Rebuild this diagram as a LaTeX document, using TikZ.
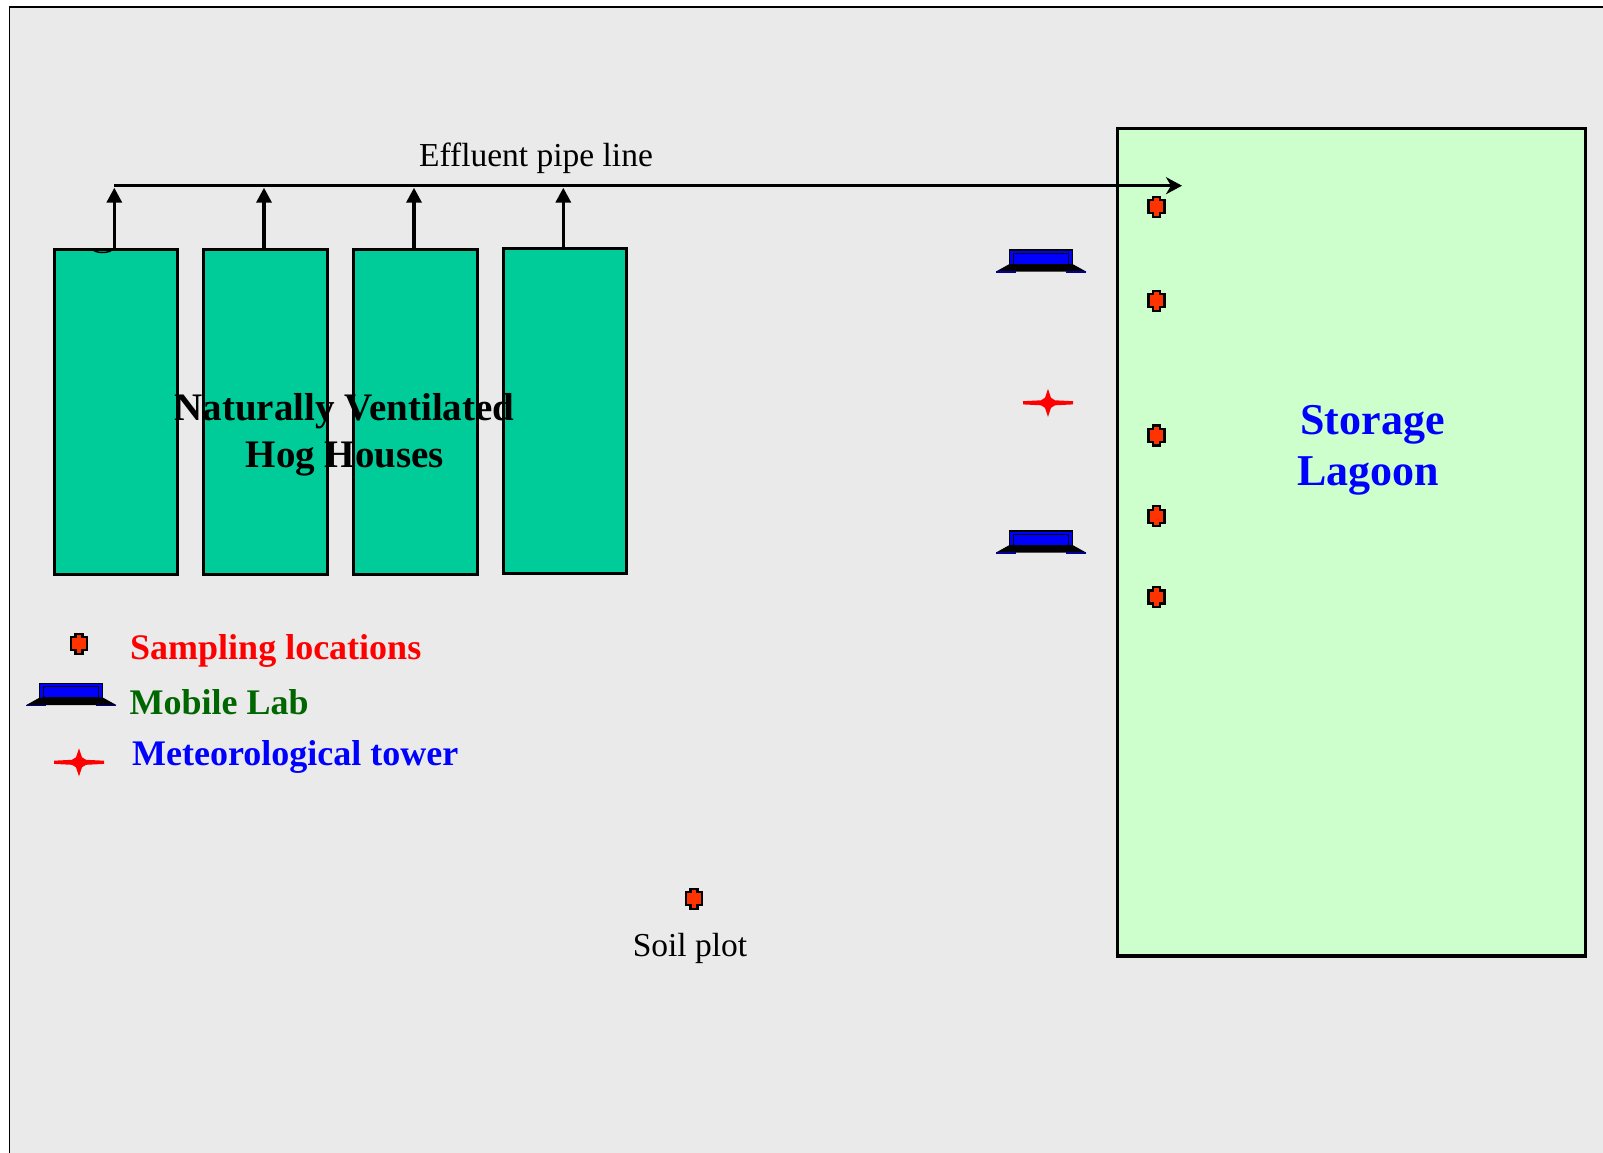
\documentclass[tikz,border=0pt]{standalone}
\usepackage{fontspec}
\setmainfont{Liberation Serif}
\usetikzlibrary{arrows.meta}
\definecolor{bggray}{HTML}{EAEAEA}
\definecolor{housegreen}{HTML}{00CC99}
\definecolor{lagoongreen}{HTML}{CCFFCC}
\definecolor{markerred}{HTML}{FF3300}
\definecolor{labgreen}{HTML}{006600}
\tikzset{
  house/.style={draw=black,line width=3.2pt,fill=housegreen,minimum width=123.5pt,minimum height=325pt,inner sep=0pt,outer sep=0pt},
  lagoon/.style={draw=black,line width=3.2pt,fill=lagoongreen,minimum width=468pt,minimum height=827pt,inner sep=0pt,outer sep=0pt},
  plain/.style={font=\fontsize{33.5}{38}\selectfont,inner sep=0pt},
  headtext/.style={font=\fontsize{39}{44}\selectfont\bfseries,inner sep=0pt},
  lagoontext/.style={font=\fontsize{44}{48}\selectfont\bfseries,text=blue,inner sep=0pt},
  legendtext/.style={font=\fontsize{36}{40}\selectfont\bfseries,inner sep=0pt,anchor=west},
  riser/.style={draw=black,line width=3.4pt,-{Triangle[width=15pt,length=15pt]}},
  pipe/.style={draw=black,line width=3.4pt,-{Stealth[width=17pt,length=16pt,inset=5pt]}},
  sampledot/.pic={
    \draw[draw=black,line width=2.2pt,fill=markerred]
      (-3.5,-10)--(3.5,-10)--(3.5,-6.5)--(8,-6.5)--(8,6.5)--(3.5,6.5)--(3.5,10)--(-3.5,10)--(-3.5,6.5)--(-8,6.5)--(-8,-6.5)--(-3.5,-6.5)--cycle;
  },
  mobilelab/.pic={
    \draw[draw=black,line width=1.2pt,fill=blue] (-31.5,-20)rectangle(31.5,-5);
    \draw[draw=black,line width=1pt,fill=blue] (-27.5,-17)rectangle(27.5,-6);
    \fill[black] (-31.5,-6)--(31.5,-6)--(45,1.5)--(-45,1.5)--cycle;
    \draw[draw=blue!60!black,line width=1.2pt] (-45,2)--(-25,2) (25,2)--(45,2);
  },
  towerstar/.pic={
    \fill[red] (-25,-1.6)--(-7,-2.5)--(-3,-5)--(0,-14)--(3,-5)--(7,-2.5)--(25,-1.6)--(25,1.6)--(7,2.5)--(3,5)--(0,14)--(-3,5)--(-7,2.5)--(-25,1.6)--cycle;
  }
}
\begin{document}
\begin{tikzpicture}[x=1pt,y=-1pt]
\useasboundingbox (0,0) rectangle (1603,1153);
\fill[bggray] (9.5,7) rectangle (1603,1153);
\draw[black,line width=1.4pt] (9.5,1153)--(9.5,7)--(1603,7);
% lagoon
\node[lagoon] (lag) at (1351.6,542.4) {};
% houses
\node[house] (h1) at (116,412) {};
\node[house] (h2) at (265.5,412) {};
\node[house] (h3) at (415.5,412) {};
\node[house] (h4) at (565,411) {};
\draw[black,line width=1.5pt] (93,249) arc[start angle=180,end angle=0,x radius=9.5,y radius=3.5];
% pipe
\coordinate (p1) at (114.3,185.7);
\coordinate (p2) at (264,185.7);
\coordinate (p3) at (414,185.7);
\coordinate (p4) at (563.3,185.7);
\coordinate (pend) at (1182,185.7);
\draw[riser] (h1.north -| p1) -- ([yshift=-2pt]p1);
\draw[riser] (h2.north -| p2) -- ([yshift=-2pt]p2);
\draw[riser] (h3.north -| p3) -- ([yshift=-2pt]p3);
\draw[riser] (h4.north -| p4) -- ([yshift=-2pt]p4);
\draw[pipe] (p1) -- (pend);
% markers
\pic at (1156.4,206.7) {sampledot};
\pic at (1156.4,300.6) {sampledot};
\pic at (1156.4,435.5) {sampledot};
\pic at (1156.4,516.3) {sampledot};
\pic at (1156.4,597) {sampledot};
\pic at (694,898.6) {sampledot};
\pic at (79,643.7) {sampledot};
\pic at (1041,270) {mobilelab};
\pic at (1041,551) {mobilelab};
\pic at (71.3,703.5) {mobilelab};
\pic at (1048,402.8) {towerstar};
\pic at (79,762.3) {towerstar};
% text
\node[plain] (efl) at (536,158) {Effluent pipe line};
\node[plain] (soil) at (690,948) {Soil plot};
\node[headtext] (nv1) at (344.5,411) {Naturally Ventilated};
\node[headtext] (nv2) at (345,459) {Hog Houses};
\node[lagoontext] (st1) at (1372.5,425) {Storage};
\node[lagoontext] (st2) at (1368,476) {Lagoon};
\node[legendtext,text=red] (lg1) at (130,651) {Sampling locations};
\node[legendtext,text=labgreen] (lg2) at (129.5,702) {Mobile Lab};
\node[legendtext,text=blue] (lg3) at (132,757) {Meteorological tower};
\end{tikzpicture}
\end{document}
